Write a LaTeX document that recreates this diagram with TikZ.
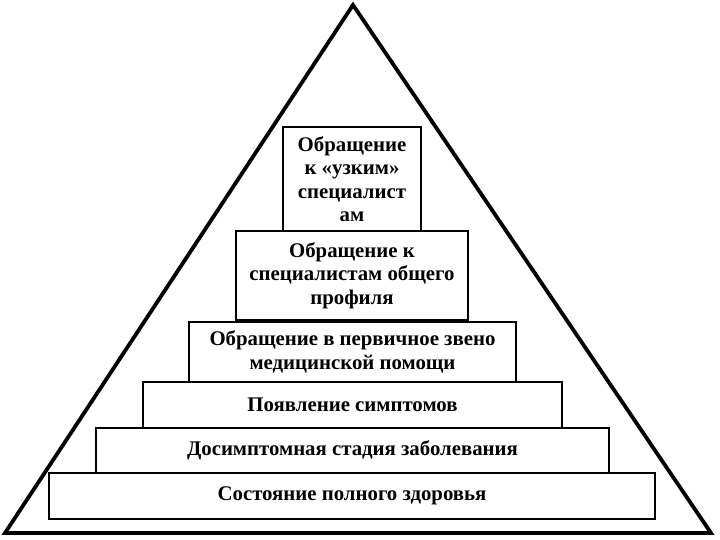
\documentclass[tikz,border=0pt]{standalone}
\usepackage{fontspec}
\setmainfont{Liberation Serif}
\begin{document}
\begin{tikzpicture}[x=1pt,y=1pt,
  box/.style={draw=black, line width=1.8pt, fill=white, inner sep=0pt, align=center,
    font=\bfseries\fontsize{20.8}{23.5}\selectfont},
  tri/.style={draw=black, line width=3.8pt, line join=miter}]
\useasboundingbox (0,0) rectangle (720,540);
\coordinate (apex) at (353,535);
\coordinate (bl) at (5,7);
\coordinate (br) at (711,7);
\draw[tri] (apex) -- (bl) -- (br) -- cycle;
\node[box, minimum width=138pt, minimum height=104pt] (b1) at (352,361)
  {Обращение\\к «узким»\\специалист\\ам};
\node[box, minimum width=232pt, minimum height=89pt] (b2) at (352,264.5)
  {Обращение к\\специалистам общего\\профиля};
\node[box, minimum width=327pt, minimum height=60pt] (b3) at (352.5,188)
  {Обращение в первичное звено\\медицинской помощи};
\node[box, minimum width=419pt, minimum height=46pt] (b4) at (352.5,135)
  {Появление симптомов};
\node[box, minimum width=513pt, minimum height=45pt] (b5) at (352.5,89.5)
  {Досимптомная стадия заболевания};
\node[box, minimum width=606pt, minimum height=46pt] (b6) at (352,44)
  {Состояние полного здоровья};
\end{tikzpicture}
\end{document}
